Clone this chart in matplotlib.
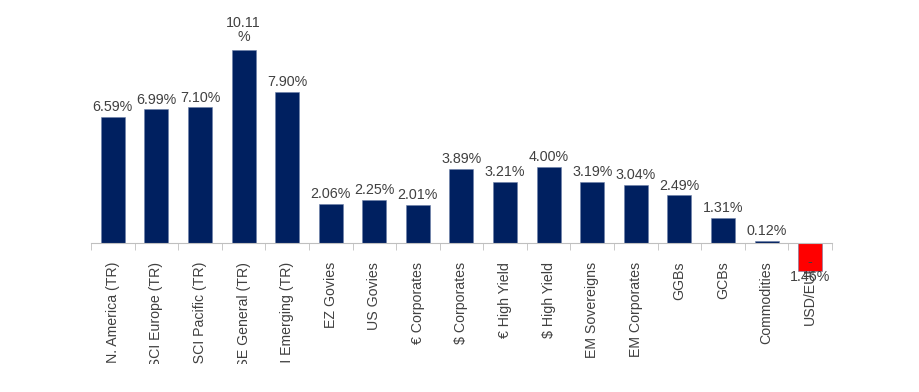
import numpy as np
import matplotlib.pyplot as plt
from matplotlib.transforms import Bbox, TransformedBbox

categories = ["MSCI N. America (TR)", "MSCI Europe (TR)", "MSCI Pacific (TR)",
              "ASE General (TR)", "MSCI Emerging (TR)", "EZ Govies", "US Govies",
              "€ Corporates", "$ Corporates", "€ High Yield", "$ High Yield",
              "EM Sovereigns", "EM Corporates", "GGBs", "GCBs", "Commodities", "USD/EUR"]
returns = [6.59, 6.99, 7.10, 10.11, 7.90, 2.06, 2.25, 2.01, 3.89, 3.21, 4.00,
           3.19, 3.04, 2.49, 1.31, 0.12, -1.46]

plt.rcParams['font.family'] = ['Liberation Sans', 'DejaVu Sans']

fig = plt.figure(figsize=(9.19, 3.92), dpi=100)
# baseline at ~243 px from top, ~19.1 px per percentage point
ax = fig.add_axes([0.099, 0.2827, 0.8063, 0.6334])

x = np.arange(len(categories))
colors = ['#002060' if v >= 0 else '#ff0000' for v in returns]
ax.bar(x, returns, width=0.55, color=colors, edgecolor='#6c7fa8', linewidth=0.4, zorder=2)
ax.set_xlim(-0.5, len(categories) - 0.5)
ax.set_ylim(-2, 11)
ax.set_axisbelow(True)

for i, v in enumerate(returns):
    txt = f"{v:.2f}%"
    if v >= 10:
        txt = txt.replace('%', '\n%')  # excel wrapped this one
        ax.annotate(txt, (i, v), xytext=(0, 4), textcoords='offset points',
                    ha='center', va='bottom', fontsize=10.3, color='#404040', linespacing=1.05)
    elif v < 0:
        txt = '-\n' + txt[1:]
        ax.annotate(txt, (i, v), xytext=(0, 1), textcoords='offset points',
                    ha='center', va='center', fontsize=10.3, color='#404040', linespacing=1.1,
                    zorder=3)
    else:
        ax.annotate(txt, (i, v), xytext=(0, 2), textcoords='offset points',
                    ha='center', va='bottom', fontsize=10.3, color='#404040')

for s in ['top', 'right', 'left']:
    ax.spines[s].set_visible(False)
ax.spines['bottom'].set_position(('data', 0))
ax.spines['bottom'].set_color('#bfbfbf')
ax.yaxis.set_visible(False)

ax.set_xticks(x)
ax.set_xticklabels(categories, rotation=90, fontsize=10.2, color='#404040', va='top')
ax.tick_params(axis='x', which='major', length=0, pad=13.5)
ax.set_xticks(np.arange(-0.5, len(categories)), minor=True)
ax.tick_params(axis='x', which='minor', length=5, color='#bfbfbf')

# the original chart area cuts the long labels off at ~364 px
clip = TransformedBbox(Bbox([[0, 28 / 392], [1, 1]]), fig.transFigure)
for lab in ax.get_xticklabels():
    lab.set_clip_box(clip)
    lab.set_clip_on(True)

plt.savefig('out.png', dpi=100)
